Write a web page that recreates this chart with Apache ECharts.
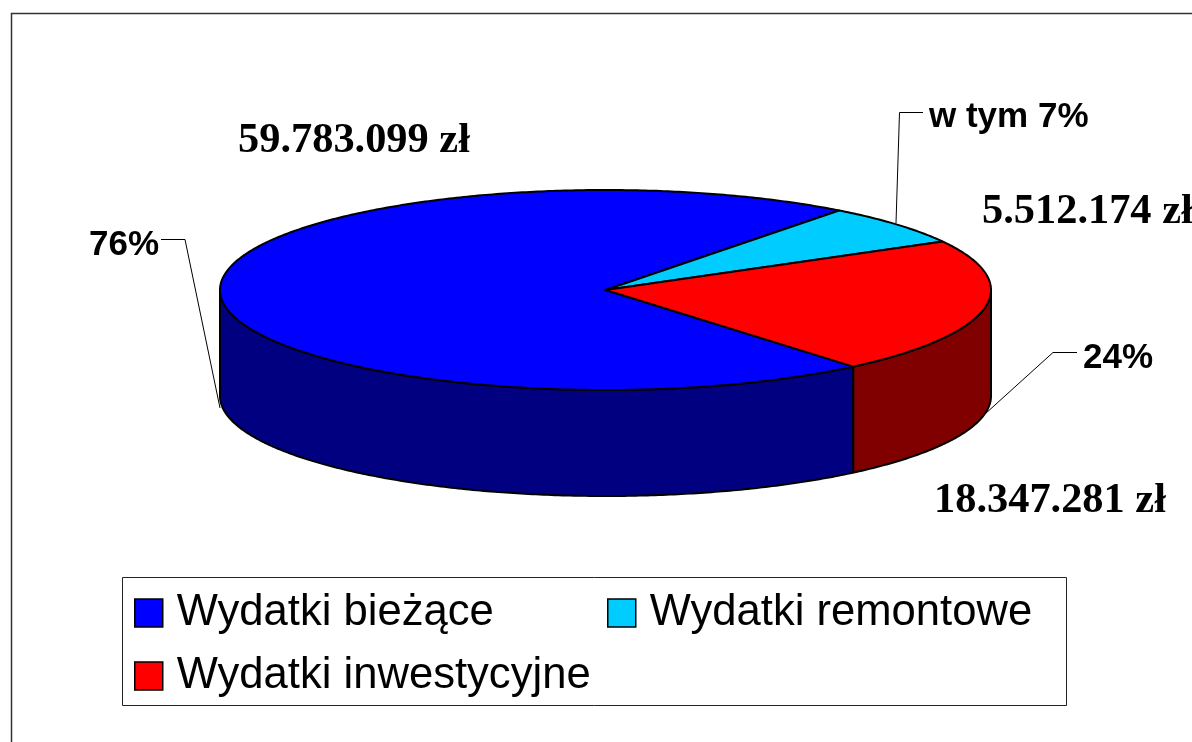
<!DOCTYPE html>
<html><head><meta charset="utf-8">
<style>html,body{margin:0;padding:0;background:#fff}#c{width:1192px;height:742px}</style>
<script src="https://cdn.jsdelivr.net/npm/echarts@6/dist/echarts.min.js"></script>
</head><body><div id="c"></div>
<script>
const categories = ['Wydatki bieżące', 'Wydatki remontowe', 'Wydatki inwestycyjne'];
const values = [59783099, 5512174, 18347281];
const valueLabels = ['59.783.099 zł', '5.512.174 zł', '18.347.281 zł'];
const percentLabels = ['76%', 'w tym 7%', '24%'];
const topColors = ['#0000ff', '#00ccff', '#ff0000'];
const wallColors = ['#000080', '#006680', '#800000'];

const cx = 605.5, cy = 290, rx = 385.5, ry = 100, depth = 106;
const firstSliceDeg = 140;   // clockwise from 12 o'clock
const total = values.reduce((a, b) => a + b, 0);
const rad = d => d * Math.PI / 180;

function sampleArc(a0, a1, dy) {
  const pts = [], n = Math.max(2, Math.ceil(Math.abs(a1 - a0) / 0.01));
  for (let i = 0; i <= n; i++) {
    const a = a0 + (a1 - a0) * i / n;
    pts.push([cx + rx * Math.sin(a), cy - ry * Math.cos(a) + dy]);
  }
  return pts;
}
function renderSlice(params) {
  const idx = params.seriesIndex;
  let before = 0;
  for (let i = 0; i < idx; i++) before += values[i];
  const a0 = rad(firstSliceDeg) + before / total * 2 * Math.PI;
  const a1 = a0 + values[idx] / total * 2 * Math.PI;
  const children = [];
  const stroke = { stroke: '#000', lineWidth: 2, lineJoin: 'round' };
  // front wall: the clockwise angle range where the rim faces the viewer (90deg..270deg)
  for (const k of [0, 1]) {
    const lo = Math.max(a0, rad(90 + 360 * k)), hi = Math.min(a1, rad(270 + 360 * k));
    if (hi > lo) {
      const upper = sampleArc(lo, hi, 0), lower = sampleArc(hi, lo, depth);
      children.push({ type: 'polygon', shape: { points: upper.concat(lower) },
        style: Object.assign({ fill: wallColors[idx] }, stroke) });
    }
  }
  children.push({ type: 'polygon', shape: { points: [[cx, cy]].concat(sampleArc(a0, a1, 0)) },
    style: Object.assign({ fill: topColors[idx] }, stroke) });
  return { type: 'group', children };
}

const text = (s, x, y, font) => ({ type: 'text', x, y, z: 5,
  style: { text: s, fill: '#000', font, verticalAlign: 'middle', align: 'left' } });
const leader = pts => ({ type: 'polyline', z: 1, shape: { points: pts },
  style: { stroke: '#000', lineWidth: 1, fill: null } });
const serifFont = 'bold 42.4px "Liberation Serif"';
const sansFont = 'bold 35px "Liberation Sans"';
const legendText = { fontFamily: 'Liberation Sans', fontSize: 43.6, color: '#000', padding: [2, 0, 0, 9] };
const legendIcon = { borderColor: '#000', borderWidth: 1.5 };

const chart = echarts.init(document.getElementById('c'), null, { renderer: 'canvas' });
chart.setOption({
  animation: false,
  backgroundColor: '#fff',
  legend: [
    { data: [categories[0], categories[2]], orient: 'vertical', left: 134, top: 591, padding: 0,
      itemWidth: 28, itemHeight: 28, itemGap: 19, icon: 'rect', textStyle: legendText, itemStyle: legendIcon, selectedMode: false },
    { data: [categories[1]], orient: 'vertical', left: 607, top: 591, padding: 0,
      itemWidth: 28, itemHeight: 28, icon: 'rect', textStyle: legendText, itemStyle: legendIcon, selectedMode: false }
  ],
  graphic: [
    { type: 'rect', z: 0, shape: { x: 11.5, y: 13.5, width: 1300, height: 900 },
      style: { fill: '#fff', stroke: '#333', lineWidth: 1.5 } },
    { type: 'rect', z: 0, shape: { x: 122.5, y: 577.5, width: 944, height: 128 },
      style: { fill: '#fff', stroke: '#222', lineWidth: 1 } },
    leader([[161, 239.5], [185, 239.5], [220, 408]]),
    leader([[923, 112.5], [899.5, 112.5], [896, 223]]),
    leader([[1077, 352.5], [1053, 352.5], [985, 414]]),
    text(valueLabels[0], 238, 141, serifFont),
    text(valueLabels[1], 982, 212, serifFont),
    text(valueLabels[2], 934, 501, serifFont),
    text(percentLabels[0], 89, 245, sansFont),
    text(percentLabels[1], 929, 117, sansFont),
    text(percentLabels[2], 1083, 358, sansFont)
  ],
  series: categories.map((name, i) => ({
    type: 'custom', name, coordinateSystem: 'none', z: 3,
    data: [values[i]], renderItem: renderSlice, silent: true,
    itemStyle: { color: topColors[i] }
  }))
});
</script></body></html>
